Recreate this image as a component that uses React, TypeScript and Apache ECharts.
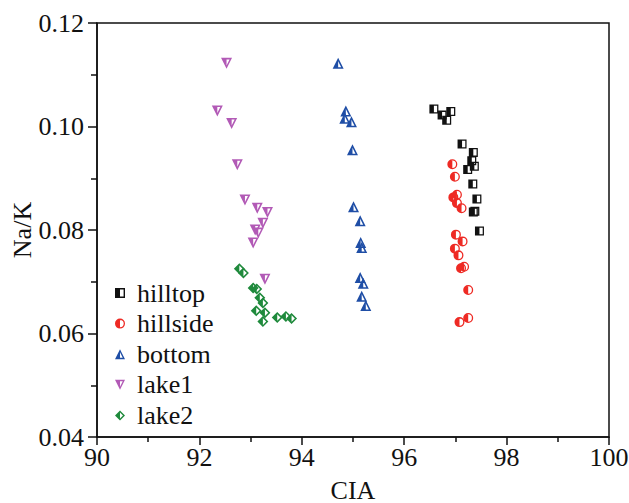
import React, { useEffect, useRef } from "react";
import * as echarts from "echarts";

const seriesNames = ["hilltop", "hillside", "bottom", "lake1", "lake2"];
const seriesColors = ["#111111", "#ee2a24", "#1f4ea6", "#b25ab6", "#1f8a3c"];

const hilltopCIA = [96.58, 96.74, 96.83, 96.91, 97.13, 97.35, 97.32, 97.37, 97.24, 97.34, 97.42, 97.38, 97.35, 97.47];
const hilltopNaK = [0.1034, 0.1022, 0.1012, 0.1029, 0.0966, 0.095, 0.0934, 0.0923, 0.0917, 0.0889, 0.086, 0.0836, 0.0835, 0.0798];

const hillsideCIA = [96.94, 96.99, 96.96, 97.03, 97.03, 97.12, 97.01, 97.14, 96.99, 97.06, 97.11, 97.17, 97.25, 97.08, 97.25];
const hillsideNaK = [0.0927, 0.0903, 0.0863, 0.0868, 0.0852, 0.0842, 0.0791, 0.0778, 0.0764, 0.0751, 0.0726, 0.0729, 0.0684, 0.0622, 0.063];

const bottomCIA = [94.71, 94.86, 94.84, 94.97, 94.99, 95.01, 95.14, 95.15, 95.17, 95.14, 95.2, 95.17, 95.25];
const bottomNaK = [0.1122, 0.103, 0.1016, 0.1009, 0.0955, 0.0845, 0.0818, 0.0776, 0.0766, 0.0708, 0.0697, 0.0672, 0.0654];

const lake1CIA = [92.53, 92.35, 92.63, 92.74, 92.89, 93.13, 93.33, 93.24, 93.09, 93.15, 93.05, 93.28];
const lake1NaK = [0.1122, 0.103, 0.1006, 0.0926, 0.0858, 0.0842, 0.0834, 0.0813, 0.08, 0.0794, 0.0775, 0.0705];

const lake2CIA = [92.78, 92.86, 93.05, 93.12, 93.18, 93.24, 93.11, 93.28, 93.24, 93.52, 93.69, 93.8];
const lake2NaK = [0.0725, 0.0717, 0.0688, 0.0686, 0.0669, 0.0659, 0.0644, 0.064, 0.0623, 0.0631, 0.0633, 0.0629];

const allCIA = [hilltopCIA, hillsideCIA, bottomCIA, lake1CIA, lake2CIA];
const allNaK = [hilltopNaK, hillsideNaK, bottomNaK, lake1NaK, lake2NaK];

const yTicks = [0.04, 0.06, 0.08, 0.1, 0.12];

// marker shapes in a 0..10 box: outer (white base), composite ring + left half (colored)
const shapes = [
  {
    outer: "M0 0 L10 0 L10 10 L0 10 Z",
    comp: "M0 0 L10 0 L10 10 L0 10 Z M1.4 1.4 L1.4 8.6 L8.6 8.6 L8.6 1.4 Z M0 0 L5 0 L5 10 L0 10 Z",
    size: 9,
  },
  {
    outer: "M0 5 A5 5 0 1 1 10 5 A5 5 0 1 1 0 5 Z",
    comp: "M0 5 A5 5 0 1 1 10 5 A5 5 0 1 1 0 5 Z M1.3 5 A3.7 3.7 0 1 0 8.7 5 A3.7 3.7 0 1 0 1.3 5 Z M5 10 A5 5 0 0 1 5 0 Z",
    size: 10,
  },
  {
    outer: "M5 0 L10 10 L0 10 Z",
    comp: "M5 0 L10 10 L0 10 Z M5 3.13 L2.27 8.6 L7.73 8.6 Z M5 0 L5 10 L0 10 Z",
    size: 11,
  },
  {
    outer: "M0 0 L10 0 L5 10 Z",
    comp: "M0 0 L10 0 L5 10 Z M2.27 1.4 L5 6.87 L7.73 1.4 Z M0 0 L5 0 L5 10 Z",
    size: 11,
  },
  {
    outer: "M5 0 L10 5 L5 10 L0 5 Z",
    comp: "M5 0 L10 5 L5 10 L0 5 Z M5 2 L2 5 L5 8 L8 5 Z M5 0 L5 10 L0 5 Z",
    size: 11,
  },
];

const FONT = "'Liberation Serif', 'Times New Roman', serif";

export default function App() {
  const ref = useRef<HTMLDivElement>(null);
  useEffect(() => {
    if (!ref.current) return;
    const chart = echarts.init(ref.current, undefined, { renderer: "svg" });
    const series: any[] = [];
    seriesNames.forEach((name, i) => {
      const data = allCIA[i].map((x, k) => [x, allNaK[i][k]]);
      series.push({
        type: "scatter",
        name: name + "_base",
        data,
        symbol: "path://" + shapes[i].outer,
        symbolSize: shapes[i].size,
        itemStyle: { color: "#ffffff", opacity: 1 },
        silent: true,
        z: 2 + i * 2,
      });
      series.push({
        type: "scatter",
        name,
        data,
        symbol: "path://" + shapes[i].comp,
        symbolSize: shapes[i].size,
        itemStyle: { color: seriesColors[i], opacity: 1 },
        z: 3 + i * 2,
      });
    });
    chart.setOption({
      animation: false,
      backgroundColor: "#ffffff",
      grid: {
        left: 97,
        right: 20,
        top: 23,
        bottom: 66,
        show: true,
        borderColor: "#111",
        borderWidth: 1.5,
        backgroundColor: "transparent",
        containLabel: false,
        outerBoundsMode: "none",
      },
      legend: {
        data: seriesNames,
        orient: "vertical",
        left: 110,
        top: 275,
        itemWidth: 10,
        itemHeight: 10,
        itemGap: 4.6,
        textStyle: {
          fontFamily: FONT,
          fontSize: 26,
          color: "#111",
          lineHeight: 26,
          padding: [0, 0, 0, 7],
        },
      },
      xAxis: {
        type: "value",
        min: 90,
        max: 100,
        interval: 2,
        name: "CIA",
        nameLocation: "middle",
        nameGap: 40,
        nameMoveOverlap: false,
        nameTextStyle: { fontFamily: FONT, fontSize: 26, color: "#111" },
        axisLine: { show: true, lineStyle: { color: "#111", width: 1.5 } },
        axisTick: { show: true, inside: false, length: 8, lineStyle: { color: "#111", width: 1.5 } },
        minorTick: { show: true, splitNumber: 2, length: 5, lineStyle: { color: "#111", width: 1.5 } },
        axisLabel: { fontFamily: FONT, fontSize: 26, color: "#111", margin: 7 },
        splitLine: { show: false },
      },
      yAxis: {
        type: "value",
        min: 0.04,
        max: 0.12,
        interval: 0.02,
        name: "Na/K",
        nameLocation: "middle",
        nameGap: 62,
        nameMoveOverlap: false,
        nameRotate: 90,
        nameTextStyle: { fontFamily: FONT, fontSize: 26, color: "#111" },
        axisLine: { show: true, lineStyle: { color: "#111", width: 1.5 } },
        axisTick: { show: true, inside: false, length: 9, lineStyle: { color: "#111", width: 1.5 } },
        minorTick: { show: true, splitNumber: 2, length: 6, lineStyle: { color: "#111", width: 1.5 } },
        axisLabel: {
          fontFamily: FONT,
          fontSize: 26,
          color: "#111",
          margin: 13,
          formatter: (v: number) => {
            const t = yTicks.find((y) => Math.abs(y - v) < 1e-9);
            return (t !== undefined ? t : v).toFixed(2);
          },
        },
        splitLine: { show: false },
      },
      series,
    });
    return () => chart.dispose();
  }, []);
  return <div ref={ref} style={{ width: 629, height: 503, position: "absolute", left: 0, top: 0 }} />;
}
